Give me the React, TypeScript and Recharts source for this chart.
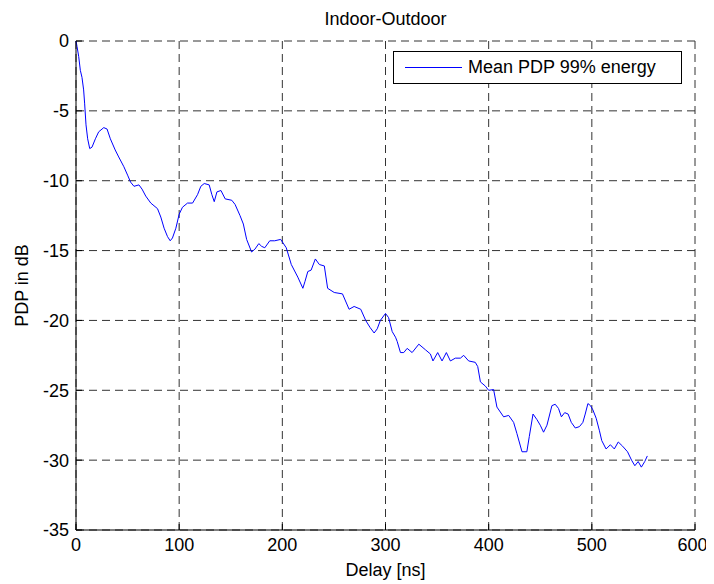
import React from "react";
import { LineChart, Line, XAxis, YAxis, CartesianGrid } from "recharts";

// delay in ns, PDP in dB
const delays = [
  0, 1, 2.6, 4.2, 5.8, 7.4, 8.4, 9.7, 11.3, 13.3, 15.5, 18.8, 22, 26.9, 30.1, 33.3, 38, 41.4, 46.4, 50,
  52.9, 56.2, 61, 64, 67.6, 72.5, 79, 82.2, 85.4, 88.7, 91.3, 93.5, 96.8, 100, 103.2, 108.1, 113, 117.8, 121, 124.3,
  129.1, 131.7, 134, 136.6, 140.5, 144.6, 151, 154.2, 159, 162.2, 165.4, 170.2, 173.4, 177.2, 180, 183, 187.8, 192.6, 198.4, 203.8,
  208.7, 215, 219.9, 222, 224.7, 227.9, 232, 235.9, 240.7, 243.9, 250.3, 258.3, 264.7, 269.6, 276, 280.8, 285, 289, 292, 295,
  300, 303, 306.5, 309.7, 311.3, 314.5, 317.7, 321, 325.8, 332.3, 338.7, 343.5, 346, 350.6, 354.8, 359, 362.9, 367.7, 372.6, 375.8,
  380.6, 387, 389.4, 392, 396.8, 400, 404.8, 408, 414.5, 419.4, 424.2, 427.4, 432.3, 437, 439.4, 443, 446.8, 450, 453.2, 456.5,
  461.3, 464.5, 467.7, 470.5, 473.7, 477, 480.1, 484, 488, 491.3, 493.6, 496.2, 498.7, 501, 504.2, 507.4, 509.6, 513.8, 518, 521.8,
  525.6, 529.8, 534.6, 538.5, 541.7, 544.9, 548, 551.3, 553.8,
];
const pdp = [
  0, -0.4, -1.1, -2.1, -2.6, -3.5, -4.5, -6.0, -7.0, -7.7, -7.6, -7.0, -6.5, -6.2, -6.3, -7.0, -7.8, -8.3, -9.0, -9.6,
  -10.1, -10.4, -10.3, -10.6, -11.1, -11.6, -12.0, -12.6, -13.4, -14.0, -14.3, -14.1, -13.4, -12.4, -11.9, -11.6, -11.6, -11.0, -10.4, -10.2,
  -10.3, -11.0, -11.5, -10.8, -10.7, -11.3, -11.4, -11.7, -12.5, -13.1, -14.2, -15.1, -14.9, -14.5, -14.7, -14.8, -14.3, -14.3, -14.2, -14.8,
  -16.0, -16.9, -17.7, -17.2, -16.5, -16.4, -15.6, -16.0, -16.1, -17.7, -18.0, -18.1, -19.2, -19.0, -19.2, -20.0, -20.5, -20.9, -20.6, -20.0,
  -19.5, -19.8, -20.8, -21.2, -21.5, -22.3, -22.3, -22.0, -22.3, -21.7, -22.1, -22.4, -22.9, -22.3, -22.9, -22.3, -22.9, -22.7, -22.7, -22.5,
  -22.9, -23.0, -23.3, -24.4, -24.7, -25.0, -24.95, -26.2, -26.9, -26.8, -27.3, -28.1, -29.4, -29.4, -28.3, -26.7, -27.1, -27.5, -28.0, -27.5,
  -26.1, -26.0, -26.3, -26.9, -26.6, -26.7, -27.3, -27.7, -27.6, -27.3, -26.7, -25.95, -26.1, -26.4, -27.0, -27.9, -28.6, -29.2, -28.9, -29.2,
  -28.7, -29.0, -29.4, -30.0, -30.4, -30.1, -30.5, -30.1, -29.7,
];
const xTicks = [0, 100, 200, 300, 400, 500, 600];
const yTicks = [-35, -30, -25, -20, -15, -10, -5, 0];

const data = delays.map((d, i) => ({ delay: d, pdp: pdp[i] }));

const FONT = '"Liberation Sans", Arial, Helvetica, sans-serif';
const tickStyle = { fill: "#000", fontSize: 18, fontFamily: FONT };
const edge = { stroke: "#000" };

export default function App() {
  return (
    <div style={{ position: "relative", width: 698, height: 576, fontFamily: FONT, background: "#fff" }}>
      <style>{`.recharts-surface { overflow: visible; }`}</style>
      <div style={{ position: "absolute", left: 68, width: 619, top: 1, lineHeight: "20px", textAlign: "center", fontSize: 18 }}>
        Indoor-Outdoor
      </div>
      <LineChart width={698} height={576} data={data} margin={{ top: 33, right: 11, left: 0, bottom: 0 }}>
        <CartesianGrid stroke="#333" strokeDasharray="8 5" horizontal vertical />
        <XAxis
          dataKey="delay" type="number" domain={[0, 600]} ticks={xTicks} height={54}
          tick={tickStyle} tickSize={-6} tickMargin={14} tickLine={edge}
          axisLine={edge}
          label={{ value: "Delay [ns]", position: "insideBottom", offset: 8, fill: "#000", fontSize: 18, fontFamily: FONT }}
        />
        <XAxis xAxisId="top" orientation="top" dataKey="delay" type="number" domain={[0, 600]} ticks={xTicks} height={0} tick={false} tickSize={-6} tickLine={edge} axisLine={edge} />
        <YAxis
          type="number" domain={[-35, 0]} ticks={yTicks} width={68}
          tick={tickStyle} tickSize={-6} tickMargin={13} tickLine={edge}
          axisLine={edge}
          label={{
            content: ({ viewBox }: any) => {
              const cx = viewBox.x + 14;
              const cy = viewBox.y + viewBox.height / 2;
              return (
                <text x={cx} y={cy} transform={`rotate(-90 ${cx} ${cy})`} textAnchor="middle" dominantBaseline="central" fill="#000" fontSize={18} fontFamily={FONT}>
                  PDP in dB
                </text>
              );
            },
          }}
        />
        <YAxis yAxisId="right" orientation="right" type="number" domain={[-35, 0]} ticks={yTicks} width={0} tick={false} tickSize={-6} tickLine={edge} axisLine={edge} />
        <Line dataKey="pdp" type="linear" stroke="#0000ff" strokeWidth={1} dot={false} isAnimationActive={false} />
      </LineChart>
      <div style={{ position: "absolute", left: 385, top: 43, width: 289, height: 33, boxSizing: "border-box", border: "1px solid #000", background: "#fff", display: "flex", alignItems: "center", fontSize: 18 }}>
        <div style={{ marginLeft: 11, width: 57, height: 0, borderTop: "1px solid #0000ff" }} />
        <span style={{ marginLeft: 6 }}>Mean PDP 99% energy</span>
      </div>
    </div>
  );
}
